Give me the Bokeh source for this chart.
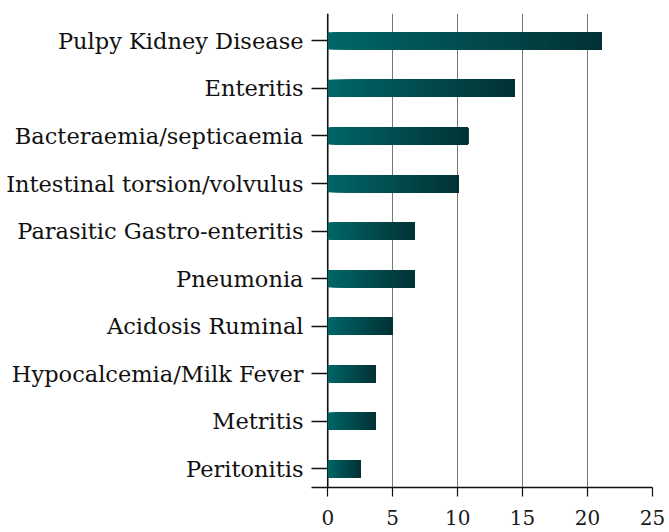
from bokeh.plotting import figure
from bokeh.models import Range1d, FixedTicker, Span, ColumnDataSource
from bokeh.embed import file_html
from bokeh.resources import INLINE

categories = [
    "Pulpy Kidney Disease",
    "Enteritis",
    "Bacteraemia/septicaemia",
    "Intestinal torsion/volvulus",
    "Parasitic Gastro-enteritis",
    "Pneumonia",
    "Acidosis Ruminal",
    "Hypocalcemia/Milk Fever",
    "Metritis",
    "Peritonitis",
]
values = [21.1, 14.4, 10.8, 10.1, 6.7, 6.7, 5.0, 3.7, 3.7, 2.5]
x_ticks = [0, 5, 10, 15, 20, 25]

color_left = (1, 102, 104)
color_right = (2, 50, 53)

# positions: top category highest
n = len(categories)
ypos = [n - 1 - i for i in range(n)]

N_SLICES = 60
lefts, rights, ys, colors = [], [], [], []
for cat_y, v in zip(ypos, values):
    for i in range(N_SLICES):
        t = (i + 0.5) / N_SLICES
        c = tuple(int(round(a + (b - a) * t)) for a, b in zip(color_left, color_right))
        lefts.append(v * i / N_SLICES)
        rights.append(v)
        ys.append(cat_y)
        colors.append("#%02x%02x%02x" % c)
src = ColumnDataSource(dict(left=lefts, right=rights, y=ys, color=colors))

FONT = "DejaVu Serif"

p = figure(width=669, height=532, output_backend="svg", toolbar_location=None,
           x_range=Range1d(-1.25, 25), y_range=Range1d(-0.389, 9.574),
           min_border_left=311, min_border_top=13, min_border_right=17, min_border_bottom=45)
p.outline_line_color = None
p.background_fill_color = "white"
p.border_fill_color = "white"

p.hbar(y="y", left="left", right="right", height=0.364, fill_color="color",
       line_color=None, source=src)

p.add_layout(Span(location=0, dimension="height", line_color="#111111",
                  line_width=1.6, level="underlay"))

# x axis
p.xaxis.ticker = FixedTicker(ticks=x_ticks)
p.xaxis.axis_line_color = "#111111"
p.xaxis.axis_line_width = 1.6
p.xaxis.major_tick_line_color = "#111111"
p.xaxis.major_tick_line_width = 1.2
p.xaxis.major_tick_out = 9
p.xaxis.major_tick_in = 0
p.xaxis.minor_tick_line_color = None
p.xaxis.major_label_standoff = 13
p.xaxis.major_label_text_font = FONT
p.xaxis.major_label_text_font_size = "20px"
p.xaxis.major_label_text_color = "#1a1a1a"

p.xgrid.ticker = FixedTicker(ticks=x_ticks)
p.xgrid.grid_line_color = "#777777"
p.xgrid.grid_line_width = 1
p.ygrid.grid_line_color = None

# y axis
p.yaxis.ticker = FixedTicker(ticks=ypos)
p.yaxis.major_label_overrides = {y: c for y, c in zip(ypos, categories)}
p.yaxis.axis_line_color = None
p.yaxis.major_tick_line_color = "#111111"
p.yaxis.major_tick_line_width = 1.6
p.yaxis.major_tick_in = 16
p.yaxis.major_tick_out = 0
p.yaxis.minor_tick_line_color = None
p.yaxis.major_label_standoff = 8
p.yaxis.major_label_text_font = FONT
p.yaxis.major_label_text_font_size = "22.5px"
p.yaxis.major_label_text_color = "#111111"

open("out.html", "w").write(file_html(p, INLINE))
